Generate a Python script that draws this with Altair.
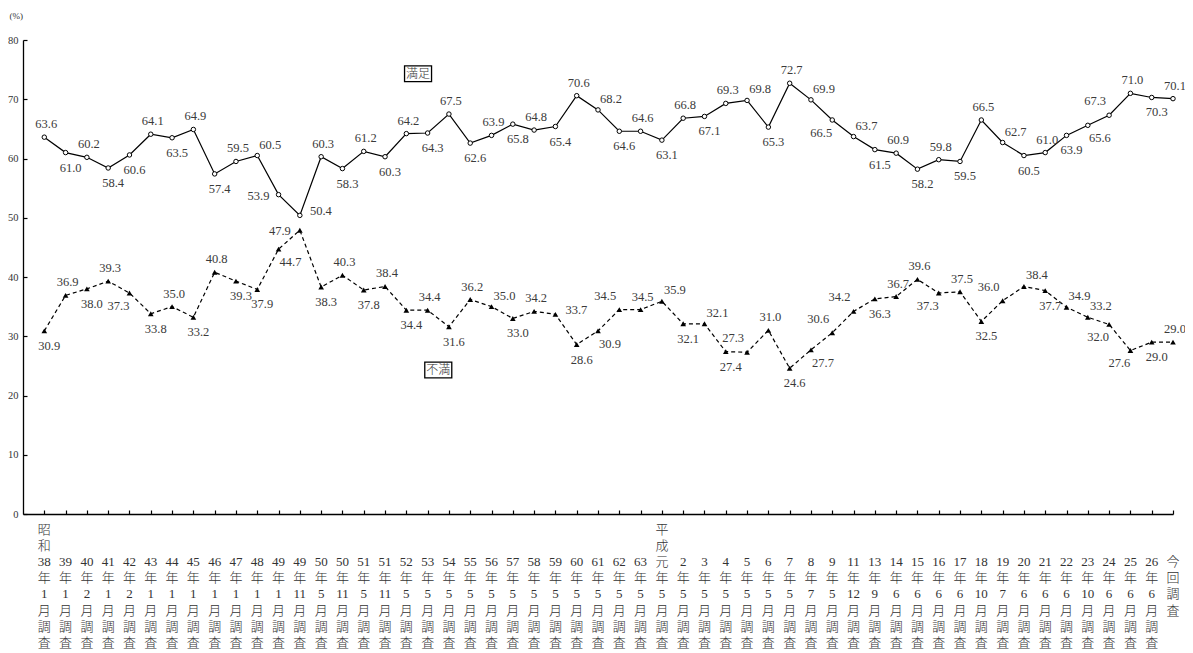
import re
import altair as alt
import pandas as pd

periods = ["昭和38年1月調査", "39年1月調査", "40年2月調査", "41年1月調査", "42年2月調査",
           "43年1月調査", "44年1月調査", "45年1月調査", "46年1月調査", "47年1月調査",
           "48年1月調査", "49年1月調査", "49年11月調査", "50年5月調査", "50年11月調査",
           "51年5月調査", "51年11月調査", "52年5月調査", "53年5月調査", "54年5月調査",
           "55年5月調査", "56年5月調査", "57年5月調査", "58年5月調査", "59年5月調査",
           "60年5月調査", "61年5月調査", "62年5月調査", "63年5月調査", "平成元年5月調査",
           "2年5月調査", "3年5月調査", "4年5月調査", "5年5月調査", "6年5月調査",
           "7年5月調査", "8年7月調査", "9年5月調査", "11年12月調査", "13年9月調査",
           "14年6月調査", "15年6月調査", "16年6月調査", "17年6月調査", "18年10月調査",
           "19年7月調査", "20年6月調査", "21年6月調査", "22年6月調査", "23年10月調査",
           "24年6月調査", "25年6月調査", "26年6月調査", "今回調査"]

satisfied = [63.6, 61.0, 60.2, 58.4, 60.6, 64.1, 63.5, 64.9, 57.4, 59.5,
             60.5, 53.9, 50.4, 60.3, 58.3, 61.2, 60.3, 64.2, 64.3, 67.5,
             62.6, 63.9, 65.8, 64.8, 65.4, 70.6, 68.2, 64.6, 64.6, 63.1,
             66.8, 67.1, 69.3, 69.8, 65.3, 72.7, 69.9, 66.5, 63.7, 61.5,
             60.9, 58.2, 59.8, 59.5, 66.5, 62.7, 60.5, 61.0, 63.9, 65.6,
             67.3, 71.0, 70.3, 70.1]

dissatisfied = [30.9, 36.9, 38.0, 39.3, 37.3, 33.8, 35.0, 33.2, 40.8, 39.3,
                37.9, 44.7, 47.9, 38.3, 40.3, 37.8, 38.4, 34.4, 34.4, 31.6,
                36.2, 35.0, 33.0, 34.2, 33.7, 28.6, 30.9, 34.5, 34.5, 35.9,
                32.1, 32.1, 27.4, 27.3, 31.0, 24.6, 27.7, 30.6, 34.2, 36.3,
                36.7, 39.6, 37.3, 37.5, 32.5, 36.0, 38.4, 37.7, 34.9, 33.2,
                32.0, 27.6, 29.0, 29.0]

# which side of its point each value label sits on
sat_label_side = ["a", "b", "a", "b", "b", "a", "b", "a", "b", "a",
                  "ar", "l", "r", "a", "b", "a", "b", "a", "b", "a",
                  "b", "a", "b", "a", "b", "a", "ar", "b", "a", "b",
                  "a", "b", "a", "ar", "b", "a", "ar", "bl", "ar", "b",
                  "a", "b", "a", "b", "a", "ar", "b", "a", "b", "br",
                  "al", "a", "b", "a"]
dis_label_side = ["b", "a", "b", "a", "bl", "b", "a", "b", "a", "b",
                  "b", "br", "l", "b", "a", "b", "a", "b", "a", "b",
                  "a", "ar", "b", "a", "r", "b", "br", "al", "a", "ar",
                  "b", "ar", "b", "al", "a", "b", "br", "al", "al", "b",
                  "a", "a", "bl", "a", "b", "al", "ar", "b", "ar", "ar",
                  "bl", "bl", "b", "a"]

series_names = ["満足", "不満"]
tag_idx = [18.55, 19.5]
tag_val = [74.3, 24.3]

side_offsets = {"a": (2, -13), "b": (5, 15), "ar": (13, -11), "al": (-14, -14),
                "br": (12, 13), "bl": (-11, 13), "l": (-20, 1), "r": (21, -4)}

rows = []
for i, p in enumerate(periods):
    rows.append(dict(idx=i + 1, period=p, series=series_names[0], value=satisfied[i],
                     label=f"{satisfied[i]:.1f}", side=sat_label_side[i]))
    rows.append(dict(idx=i + 1, period=p, series=series_names[1], value=dissatisfied[i],
                     label=f"{dissatisfied[i]:.1f}", side=dis_label_side[i]))
df = pd.DataFrame(rows)
tags = pd.DataFrame(dict(tag=series_names, idx=tag_idx, value=tag_val))

# vertical (one character / number per line) category labels
char_rows = []
for i, p in enumerate(periods):
    toks = re.findall(r"\d+|.", p)
    start = 0 if p.startswith(("昭", "平")) else 2
    for k, t in enumerate(toks):
        char_rows.append(dict(idx=i + 1, line=start + k, tok=t, base=0))
chars = pd.DataFrame(char_rows)

SERIF = "Liberation Serif, Noto Sans CJK JP"
xscale = alt.Scale(domain=[0, len(periods)], nice=False, zero=False)
yscale = alt.Scale(domain=[0, 80], nice=False)
idx_values = list(range(1, len(periods) + 1))
y_values = list(range(0, 81, 10))

base = alt.Chart(df)
sat = base.transform_filter(alt.datum.series == series_names[0])
dis = base.transform_filter(alt.datum.series == series_names[1])

main_x_axis = alt.Axis(values=idx_values, ticks=False, tickSize=0, labels=False,
                       domainColor="black", domainWidth=1.3, grid=False, title=None,
                       orient="bottom")
main_y_axis = alt.Axis(values=y_values, ticks=False, tickSize=0, domainColor="black",
                       domainWidth=1.3, labelFont=SERIF, labelFontSize=10.5,
                       labelColor="#333", labelPadding=5, grid=False, title="(%)",
                       titleAngle=0, titleAlign="left", titleBaseline="middle",
                       titleX=-14, titleY=-25, titleFont=SERIF, titleFontSize=9,
                       titleFontWeight="normal", titleColor="#333", orient="left")
tick_x_axis = alt.Axis(values=idx_values, ticks=True, tickSize=4, tickColor="black",
                       tickWidth=1.2, labels=False, domain=False, grid=False, offset=-4,
                       title=None, orient="bottom")
tick_y_axis = alt.Axis(values=y_values, ticks=True, tickSize=4, tickColor="black",
                       tickWidth=1.2, labels=False, domain=False, grid=False, offset=-4,
                       title=None, orient="left")

sat_line = sat.mark_line(color="black", strokeWidth=1.2).encode(
    x=alt.X("idx:Q", scale=xscale, axis=main_x_axis),
    y=alt.Y("value:Q", scale=yscale, axis=main_y_axis),
)
dis_line = dis.mark_line(color="black", strokeWidth=1.2, strokeDash=[4, 3]).encode(
    x=alt.X("idx:Q", scale=xscale, axis=tick_x_axis),
    y=alt.Y("value:Q", scale=yscale, axis=tick_y_axis),
)
sat_pts = sat.mark_point(shape="circle", filled=True, fill="white", stroke="black",
                         strokeWidth=1, size=20, opacity=1).encode(
    x=alt.X("idx:Q", scale=xscale, axis=None),
    y=alt.Y("value:Q", scale=yscale, axis=None),
)
dis_pts = dis.mark_point(shape="triangle-up", filled=True, color="black", size=32,
                         opacity=1).encode(
    x=alt.X("idx:Q", scale=xscale, axis=None),
    y=alt.Y("value:Q", scale=yscale, axis=None),
)

label_layers = []
for code, (ddx, ddy) in side_offsets.items():
    label_layers.append(
        base.transform_filter(alt.datum.side == code).mark_text(
            font=SERIF, fontSize=12.5, color="#3a3a3a", align="center",
            baseline="middle", dx=ddx, dy=ddy,
        ).encode(
            x=alt.X("idx:Q", scale=xscale, axis=None),
            y=alt.Y("value:Q", scale=yscale, axis=None),
            text="label:N",
        )
    )

LINE_H = 16.1
cat_layers = []
for ln in range(8):
    cat_layers.append(
        alt.Chart(chars).transform_filter(alt.datum.line == ln).mark_text(
            font=SERIF, fontSize=13, fontWeight=300, color="#333", align="center",
            baseline="middle", dy=16 + LINE_H * ln,
        ).encode(
            x=alt.X("idx:Q", scale=xscale, axis=None),
            y=alt.Y("base:Q", scale=yscale, axis=None),
            text="tok:N",
        )
    )

tag_box = alt.Chart(tags).mark_point(
    shape="M-1.35,-0.78H1.35V0.78H-1.35Z", filled=False, stroke="black",
    strokeWidth=1.3, size=400, opacity=1,
).encode(
    x=alt.X("idx:Q", scale=xscale, axis=None),
    y=alt.Y("value:Q", scale=yscale, axis=None),
)
tag_text = alt.Chart(tags).mark_text(
    font="Noto Sans CJK JP", fontSize=12, fontWeight=300, color="#333", align="center",
    baseline="middle",
).encode(
    x=alt.X("idx:Q", scale=xscale, axis=None),
    y=alt.Y("value:Q", scale=yscale, axis=None),
    text="tag:N",
)

chart = alt.layer(
    sat_line, dis_line, sat_pts, dis_pts, *label_layers, *cat_layers, tag_box, tag_text
).resolve_axis(
    x="independent", y="independent"
).properties(
    width=1150, height=474,
    autosize=alt.AutoSizeParams(type="none"),
    padding={"left": 15, "top": 32, "right": 12, "bottom": 137},
    background="white",
).configure_view(stroke=None)

chart.save("out.html", embed_options={"renderer": "svg", "actions": False})
